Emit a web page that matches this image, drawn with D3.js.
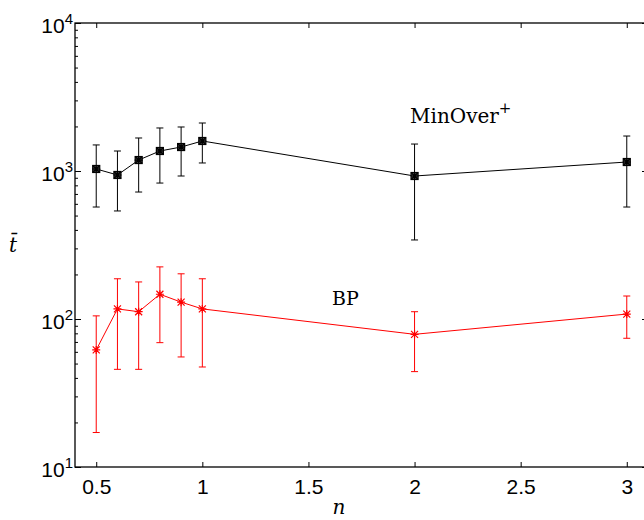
<!DOCTYPE html>
<html>
<head>
<meta charset="utf-8">
<script src="https://cdn.jsdelivr.net/npm/d3@7"></script>
<style>
  body { margin: 0; background: #fff; }
  svg { display: block; overflow: hidden; }
</style>
</head>
<body>
<div id="chart"></div>
<script>
// data
const nValues = [0.5, 0.6, 0.7, 0.8, 0.9, 1, 2, 3];

const minOverMean = [1032, 940, 1186, 1365, 1452, 1595, 925, 1150];
const minOverLow = [571, 537, 721, 829, 925, 1133, 342, 571];
const minOverHigh = [1500, 1365, 1671, 1953, 1983, 2110, 1521, 1723];

const bpMean = [61.8, 117, 112, 147, 130, 117, 78.8, 108];
const bpLow = [17.1, 45.7, 45.7, 69.2, 55.4, 47.4, 44.1, 74.1];
const bpHigh = [105, 187, 178, 225, 202, 187, 112, 143];

const xTicks = [0.5, 1, 1.5, 2, 2.5, 3];
const yExponents = [1, 2, 3, 4];

// layout
const margin = { top: 23, right: -4, bottom: 53, left: 75 };
const W = 644, H = 520;
const width = W - margin.left - margin.right;
const height = H - margin.top - margin.bottom;

const svg = d3
  .select('#chart')
  .append('svg')
  .attr('width', W)
  .attr('height', H);

const g = svg.append('g').attr('transform', `translate(${margin.left},${margin.top})`);

const x = d3.scaleLinear().domain([0.4, 3.1]).range([0, width]);
const y = d3.scaleLog().domain([10, 10000]).range([height, 0]);

const majors = yExponents.map((e) => Math.pow(10, e));
const minors = [];
for (let e = 1; e < 4; e++) {
  for (let k = 2; k <= 9; k++) minors.push(k * Math.pow(10, e));
}

const tickFont = 'Liberation Sans, Arial, sans-serif';

// bottom axis
g.append('g')
  .attr('transform', `translate(0,${height})`)
  .call(d3.axisBottom(x).tickValues(xTicks).tickSize(-5).tickPadding(12).tickFormat(d3.format('')))
  .call((a) => a.select('.domain').remove())
  .call((a) => a.selectAll('text').attr('font-size', 21).attr('font-family', tickFont).attr('fill', '#000'));

// top axis
g.append('g')
  .call(d3.axisTop(x).tickValues(xTicks).tickSize(-5).tickFormat(''))
  .call((a) => a.select('.domain').remove());

// left axis major + minor
g.append('g')
  .call(d3.axisLeft(y).tickValues(majors).tickSize(-6).tickFormat(''))
  .call((a) => a.select('.domain').remove());
g.append('g')
  .call(d3.axisLeft(y).tickValues(minors).tickSize(-3).tickFormat(''))
  .call((a) => a.select('.domain').remove());

// right axis
g.append('g')
  .attr('transform', `translate(${width},0)`)
  .call(d3.axisRight(y).tickValues(majors).tickSize(-6).tickFormat(''))
  .call((a) => a.select('.domain').remove());
g.append('g')
  .attr('transform', `translate(${width},0)`)
  .call(d3.axisRight(y).tickValues(minors).tickSize(-3).tickFormat(''))
  .call((a) => a.select('.domain').remove());

g.selectAll('.tick line').attr('stroke', '#000').attr('stroke-width', 1);

// frame
g.append('rect')
  .attr('width', width)
  .attr('height', height)
  .attr('fill', 'none')
  .attr('stroke', '#000')
  .attr('stroke-width', 1.3);

// y tick labels 10^e
const yLab = g
  .selectAll('.ylab')
  .data(yExponents)
  .enter()
  .append('text')
  .attr('class', 'ylab')
  .attr('x', -2)
  .attr('y', (e) => y(Math.pow(10, e)) + 10)
  .attr('text-anchor', 'end')
  .attr('font-family', tickFont)
  .attr('font-size', 21);
yLab.append('tspan').text('10');
yLab.append('tspan').attr('dy', -9).attr('font-size', 15).text((e) => e);

// series
function drawSeries(mean, low, high, color, marker) {
  const pts = nValues.map((n, i) => ({ n: n, m: mean[i], lo: low[i], hi: high[i] }));
  const s = g.append('g');

  s.append('path')
    .datum(pts)
    .attr('fill', 'none')
    .attr('stroke', color)
    .attr('stroke-width', 1)
    .attr('d', d3.line().x((d) => x(d.n)).y((d) => y(d.m)));

  const eb = s.selectAll('.eb').data(pts).enter().append('g').attr('stroke', color).attr('stroke-width', 1);
  eb.append('line')
    .attr('x1', (d) => x(d.n)).attr('x2', (d) => x(d.n))
    .attr('y1', (d) => y(d.lo)).attr('y2', (d) => y(d.hi));
  eb.append('line')
    .attr('x1', (d) => x(d.n) - 3.5).attr('x2', (d) => x(d.n) + 3.5)
    .attr('y1', (d) => y(d.lo)).attr('y2', (d) => y(d.lo));
  eb.append('line')
    .attr('x1', (d) => x(d.n) - 3.5).attr('x2', (d) => x(d.n) + 3.5)
    .attr('y1', (d) => y(d.hi)).attr('y2', (d) => y(d.hi));

  const mk = s.selectAll('.mk').data(pts).enter().append('g')
    .attr('transform', (d) => `translate(${x(d.n)},${y(d.m)})`)
    .attr('stroke', color)
    .attr('stroke-width', 1.2);
  const r = 3.5;
  if (marker === 'square') {
    mk.append('rect').attr('x', -r).attr('y', -r).attr('width', 2 * r).attr('height', 2 * r)
      .attr('fill', '#444');
  }
  mk.append('path').attr('d', `M${-r},${-r}L${r},${r}M${-r},${r}L${r},${-r}M0,${-r - 0.5}V${r + 0.5}M${-r - 0.5},0H${r + 0.5}`);
}

drawSeries(minOverMean, minOverLow, minOverHigh, '#000', 'square');
drawSeries(bpMean, bpLow, bpHigh, '#ff0000', 'star');

// series labels
const serif = 'DejaVu Serif, Liberation Serif, serif';
const mo = svg.append('text')
  .attr('x', 410)
  .attr('y', 123)
  .attr('font-family', serif)
  .attr('font-size', 20);
mo.append('tspan').text('MinOver');
mo.append('tspan').attr('dy', -10).attr('font-size', 15).text('+');

svg.append('text')
  .attr('x', 332)
  .attr('y', 305)
  .attr('font-family', serif)
  .attr('font-size', 19)
  .text('BP');

// axis titles
svg.append('text')
  .attr('x', 9)
  .attr('y', 252)
  .attr('font-family', serif)
  .attr('font-style', 'italic')
  .attr('font-size', 20)
  .text('t\u0304');

svg.append('text')
  .attr('x', 339)
  .attr('y', 514)
  .attr('text-anchor', 'middle')
  .attr('font-family', serif)
  .attr('font-style', 'italic')
  .attr('font-size', 20)
  .text('n');
</script>
</body>
</html>
